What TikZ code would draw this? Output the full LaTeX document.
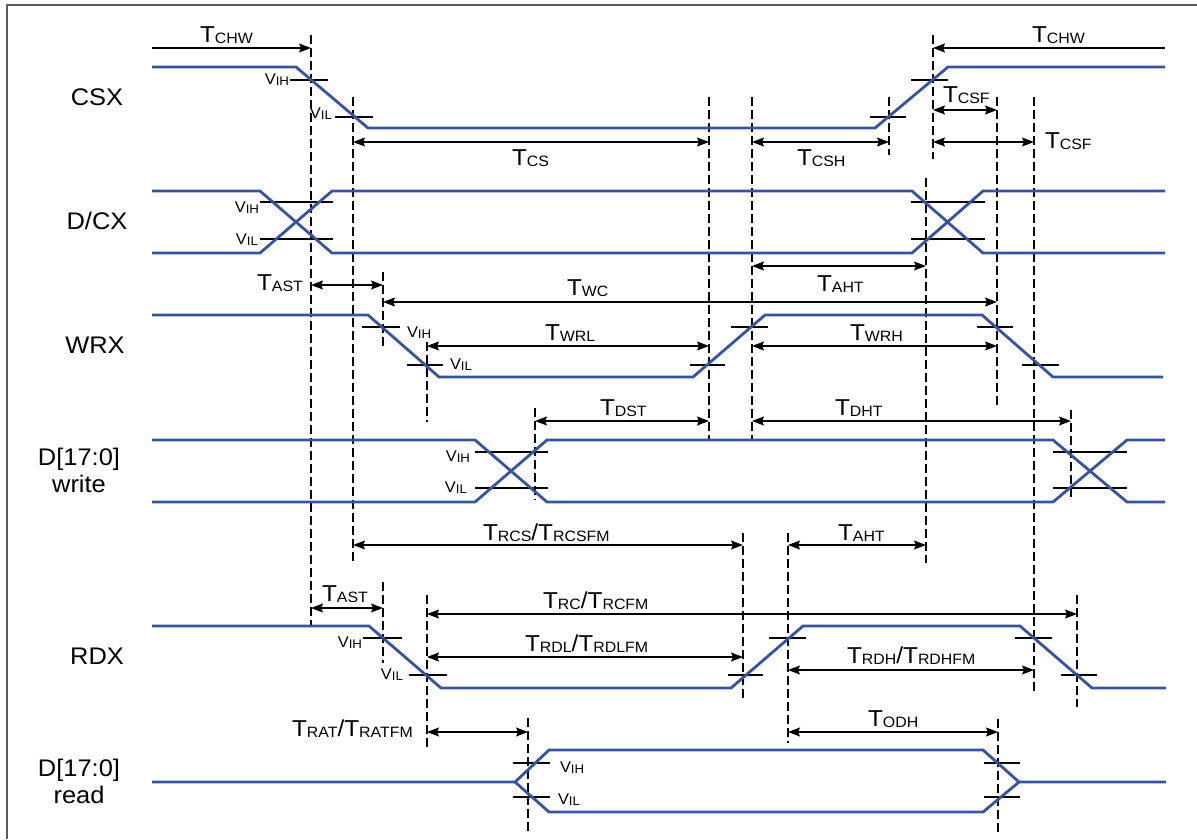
\documentclass[tikz,border=0pt]{standalone}
\usepackage{fontspec}
\setmainfont{Liberation Sans}[FakeStretch=1.06]
\usetikzlibrary{arrows.meta}
\definecolor{sigblue}{RGB}{52,82,168}
\definecolor{framegray}{RGB}{90,90,90}
\newcommand{\TT}[1]{{\fontsize{23}{23}\selectfont T}{\fontsize{15}{15}\selectfont\raisebox{-1.6pt}{#1}}}
\newcommand{\TS}{{\fontsize{23}{23}\selectfont/}}
\newcommand{\VV}[1]{{\fontsize{15.5}{15.5}\selectfont V}{\fontsize{12.5}{12.5}\selectfont\raisebox{-1.8pt}{#1}}}
\tikzset{
  sig/.style={draw=sigblue, line width=2.8pt, line join=miter},
  tick/.style={draw=black, line width=1.1pt},
  guide/.style={draw=black, line width=1.2pt, dash pattern=on 9pt off 4pt},
  dim/.style={draw=black, line width=1.2pt},
  both/.style={dim, {Stealth[length=12pt,width=9pt,inset=2pt]}-{Stealth[length=12pt,width=9pt,inset=2pt]}},
  toR/.style={dim, -{Stealth[length=12pt,width=9pt,inset=2pt]}},
  toL/.style={dim, {Stealth[length=12pt,width=9pt,inset=2pt]}-},
  lab/.style={inner sep=0pt, outer sep=0pt},
  siglab/.style={inner sep=0pt, align=center, font=\fontsize{24}{27}\selectfont}
}
\begin{document}
\begin{tikzpicture}[x=1pt,y=-1pt]
\useasboundingbox (0,0) rectangle (1197,839);
% frame
\draw[framegray, line width=2pt] (7,839) -- (7,5) -- (1197,5);

% signal names
\node[siglab] (ncsx) at (97,97) {CSX};
\node[siglab] (ndcx) at (97,221) {D/CX};
\node[siglab] (nwrx) at (95,345) {WRX};
\node[siglab] (ndw) at (79,470) {D[17:0]\\write};
\node[siglab] (nrdx) at (97,656) {RDX};
\node[siglab] (ndr) at (79,781) {D[17:0]\\read};

% dashed guides
\draw[guide] (311,35) -- (311,626);
\draw[guide] (353,97) -- (353,563);
\draw[guide] (383,272) -- (383,347);
\draw[guide] (383,582) -- (383,663);
\draw[guide] (427,342) -- (427,422);
\draw[guide] (427,595) -- (427,750);
\draw[guide] (528,718) -- (528,832);
\draw[guide] (535,408) -- (535,500);
\draw[guide] (709,97) -- (709,440);
\draw[guide] (743,533) -- (743,700);
\draw[guide] (752,97) -- (752,440);
\draw[guide] (788,533) -- (788,743);
\draw[guide] (889,97) -- (889,155);
\draw[guide] (926,178) -- (926,563);
\draw[guide] (933,35) -- (933,159);
\draw[guide] (997,97) -- (997,408);
\draw[guide] (998,719) -- (998,832);
\draw[guide] (1034,97) -- (1034,693);
\draw[guide] (1071,410) -- (1071,500);
\draw[guide] (1077,595) -- (1077,707);

% threshold ticks
\foreach \a/\b/\y in {290/328/80, 335/373/117, 870/906/117, 911/948/80,
  260/333/202, 260/333/239, 911/985/202, 911/985/239,
  362/400/327, 407/443/365, 690/725/365, 731/768/327, 977/1013/327, 1022/1059/365,
  475/548/452, 475/548/488, 1053/1127/452, 1053/1127/488,
  363/402/638, 409/447/675, 728/763/675, 769/806/638, 1015/1052/638, 1061/1097/675,
  513/550/763, 513/550/797, 984/1020/763, 984/1020/797}
  \draw[tick] (\a,\y) -- (\b,\y);

% waveforms
\draw[sig] (152,67) -- (296,67) -- (368,128) -- (875,128) -- (948,67) -- (1165,67);
\draw[sig] (152,191) -- (260,191) -- (332,253) -- (912,253) -- (983,191) -- (1165,191);
\draw[sig] (152,253) -- (260,253) -- (332,191) -- (912,191) -- (983,253) -- (1165,253);
\draw[sig] (152,315) -- (368,315) -- (439,377) -- (693,377) -- (765,315) -- (982,315) -- (1053,377) -- (1163,377);
\draw[sig] (152,440) -- (475,440) -- (547,502) -- (1053,502) -- (1127,440) -- (1165,440);
\draw[sig] (152,502) -- (475,502) -- (547,440) -- (1053,440) -- (1127,502) -- (1165,502);
\draw[sig] (152,626) -- (369,626) -- (441,688) -- (731,688) -- (803,626) -- (1020,626) -- (1092,688) -- (1166,688);
\draw[sig] (152,782) -- (515,782) -- (549,750) -- (983,750) -- (1019,782) -- (1166,782);
\draw[sig] (515,782) -- (549,812) -- (983,812) -- (1019,782);

% dimension arrows
\draw[toR] (152,48) -- (311,48);
\draw[toL] (933,48) -- (1165,48);
\draw[both] (353,142) -- (709,142);
\draw[both] (752,142) -- (889,142);
\draw[both] (933,110) -- (997,110);
\draw[both] (933,142) -- (1034,142);
\draw[both] (311,285) -- (383,285);
\draw[both] (752,266) -- (926,266);
\draw[both] (383,302) -- (997,302);
\draw[both] (427,346) -- (709,346);
\draw[both] (752,346) -- (997,346);
\draw[both] (535,421) -- (709,421);
\draw[both] (752,421) -- (1071,421);
\draw[both] (353,545) -- (743,545);
\draw[both] (788,545) -- (926,545);
\draw[both] (311,608) -- (383,608);
\draw[both] (427,614) -- (1077,614);
\draw[both] (427,657) -- (743,657);
\draw[both] (788,670) -- (1034,670);
\draw[both] (427,732) -- (528,732);
\draw[both] (788,732) -- (998,732);

% timing labels
\node[lab, anchor=base west] (tchwl) at (200,42) {\TT{CHW}};
\node[lab, anchor=base west] (tchwr) at (1032,42) {\TT{CHW}};
\node[lab, anchor=base west] (tcs) at (512,165) {\TT{CS}};
\node[lab, anchor=base west] (tcsh) at (797,165) {\TT{CSH}};
\node[lab, anchor=base west] (tcsf1) at (943,102) {\TT{CSF}};
\node[lab, anchor=base west] (tcsf2) at (1045,148) {\TT{CSF}};
\node[lab, anchor=base west] (tast1) at (257,290) {\TT{AST}};
\node[lab, anchor=base west] (twc) at (567,295) {\TT{WC}};
\node[lab, anchor=base west] (twrl) at (545,340) {\TT{WRL}};
\node[lab, anchor=base west] (tdst) at (600,415) {\TT{DST}};
\node[lab, anchor=base west] (taht1) at (817,291) {\TT{AHT}};
\node[lab, anchor=base west] (twrh) at (850,340) {\TT{WRH}};
\node[lab, anchor=base west] (tdht) at (835,415) {\TT{DHT}};
\node[lab, anchor=base west] (trcs) at (483,540) {\TT{RCS}\TS\TT{RCSFM}};
\node[lab, anchor=base west] (taht2) at (838,540) {\TT{AHT}};
\node[lab, anchor=base west] (tast2) at (322,601) {\TT{AST}};
\node[lab, anchor=base west] (trc) at (543,608) {\TT{RC}\TS\TT{RCFM}};
\node[lab, anchor=base west] (trdl) at (525,651) {\TT{RDL}\TS\TT{RDLFM}};
\node[lab, anchor=base west] (trdh) at (847,663) {\TT{RDH}\TS\TT{RDHFM}};
\node[lab, anchor=base west] (trat) at (292,736) {\TT{RAT}\TS\TT{RATFM}};
\node[lab, anchor=base west] (todh) at (868,726) {\TT{ODH}};

% threshold labels
\node[lab, anchor=base east] (v1) at (289,84) {\VV{IH}};
\node[lab, anchor=base east] (v2) at (332,118) {\VV{IL}};
\node[lab, anchor=base east] (v3) at (259,212) {\VV{IH}};
\node[lab, anchor=base east] (v4) at (258,244) {\VV{IL}};
\node[lab, anchor=base west] (v5) at (407,337) {\VV{IH}};
\node[lab, anchor=base west] (v6) at (450,369) {\VV{IL}};
\node[lab, anchor=base east] (v7) at (470,461) {\VV{IH}};
\node[lab, anchor=base east] (v8) at (467,492) {\VV{IL}};
\node[lab, anchor=base east] (v9) at (362,647) {\VV{IH}};
\node[lab, anchor=base east] (v10) at (403,679) {\VV{IL}};
\node[lab, anchor=base west] (v11) at (560,772) {\VV{IH}};
\node[lab, anchor=base west] (v12) at (558,804) {\VV{IL}};
\end{tikzpicture}
\end{document}
